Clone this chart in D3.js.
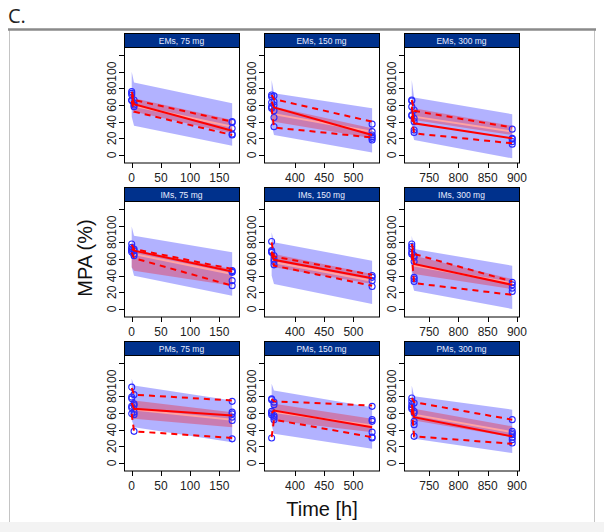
<!DOCTYPE html>
<html>
<head>
<meta charset="utf-8">
<script src="https://cdn.jsdelivr.net/npm/d3@7"></script>
<style>
  body { margin: 0; background: #fff; }
  svg { display: block; font-family: "Liberation Sans", Arial, Helvetica, sans-serif; }
</style>
</head>
<body>
<div id="chart"></div>
<script>
// panels in reading order: EMs 75, EMs 150, EMs 300, IMs 75, ... PMs 300
var groups = ["EMs", "IMs", "PMs"];
var doses = ["75 mg", "150 mg", "300 mg"];
var startTimes = [0, 360, 720];
var relTimes = [0, 4, 172];          // first sample, second sample, last sample
var xDomains = [[-13.2, 183.7], [346.9, 543.8], [706.7, 903.6]];
var xTicks = [[0, 50, 100, 150], [400, 450, 500], [750, 800, 850, 900]];
var yTicks = [0, 20, 40, 60, 80, 100, 120];

// simulated prediction interval (outer blue band), values at relTimes
var piUpper = [[100, 87, 62], [90, 74, 56], [90, 69, 49],
               [99, 88, 68], [92, 80, 58], [88, 72, 52],
               [101, 93, 75], [95, 87, 67], [93, 80, 64]];
var piLower = [[46, 35, 11], [36, 24, 3], [30, 18, -4],
               [50, 40, 16], [40, 30, 6], [32, 22, 0],
               [52, 43, 25], [45, 35, 17], [40, 29, 12]];
// confidence band of simulated median (pink band)
var ciUpper = [[72, 68, 42], [62, 58, 32], [60, 56, 35],
               [74, 71, 48], [68, 66, 42], [68, 64, 36],
               [78, 75, 61], [74, 71, 53], [68, 65, 44]];
var ciLower = [[55, 52, 26], [44, 40, 20], [45, 42, 24],
               [50, 46, 28], [53, 50, 30], [45, 42, 24],
               [56, 53, 43], [54, 51, 37], [54, 51, 31]];
var simMedian = [[63, 59, 34], [52, 49, 28], [50, 46, 28],
                 [68, 66, 42], [59, 56, 34], [55, 52, 31],
                 [67, 64, 52], [64, 61, 45], [61, 58, 37]];
// observed percentiles
var obsMedian = [[72, 61, 29], [64, 57, 24], [58, 38, 20],
                 [72, 70, 45], [69, 59, 37], [72, 54, 29],
                 [72, 65, 57], [60, 63, 43], [70, 55, 32]];
var obsP95 = [[76, 66, 40], [72, 67, 40], [66, 53, 33],
              [77, 72, 48], [80, 63, 41], [78, 66, 33],
              [90, 82, 75], [77, 74, 69], [78, 73, 52]];
var obsP05 = [[65, 52, 24], [56, 33, 21], [47, 26, 14],
              [68, 61, 28], [68, 52, 28], [66, 31, 17],
              [59, 38, 30], [31, 52, 31], [65, 32, 23]];
// observations at each of the three sampling times
var obsFirst = [[76, 74, 72, 66, 65], [72, 70, 63, 58, 56], [66, 65, 58, 48, 47],
                [78, 74, 72, 70, 68], [81, 70, 69, 68], [78, 75, 72, 68, 66],
                [91, 79, 77, 68, 66, 59], [77, 76, 62, 60, 58, 30], [78, 74, 70, 67, 65]];
var obsSecond = [[66, 62, 60, 58], [71, 64, 60, 53, 45, 34], [54, 44, 40, 30, 27],
                 [72, 70, 66, 64], [64, 60, 57, 53], [64, 62, 57, 38, 36, 33],
                 [82, 71, 69, 61, 58, 38], [73, 70, 57, 55, 52], [72, 62, 60, 50, 46, 32]];
var obsLast = [[40, 39, 32, 25, 24], [37, 28, 24, 22, 20, 18], [31, 20, 19, 16, 13],
               [46, 45, 44, 34, 28], [40, 38, 34, 27], [32, 29, 25, 21],
               [74, 61, 59, 55, 51, 29], [68, 52, 50, 37, 31, 30], [52, 38, 36, 34, 31, 28, 24]];

var W = 604, H = 532;
var colLeft = [124, 264, 404];
var rowTop = [33, 187, 341];
var panelW = 115, stripH = 14, plotH = 116;

var svg = d3.select("#chart").append("svg")
  .attr("width", W)
  .attr("height", H);

// page frame
svg.append("rect").attr("x", 0).attr("y", 522).attr("width", W).attr("height", 10).attr("fill", "#f3f3f3");
svg.append("line").attr("x1", 9.5).attr("x2", 9.5).attr("y1", 29).attr("y2", 522)
  .attr("stroke", "#c4c4c4").attr("stroke-width", 1);
svg.append("line").attr("x1", 594.5).attr("x2", 594.5).attr("y1", 29).attr("y2", 522)
  .attr("stroke", "#c4c4c4").attr("stroke-width", 1);
svg.append("line").attr("x1", 8).attr("x2", 596).attr("y1", 29.5).attr("y2", 29.5)
  .attr("stroke", "#8a8a8a").attr("stroke-width", 2.5);
svg.append("text").attr("x", 8).attr("y", 23)
  .attr("font-family", "'Open Sans', sans-serif")
  .attr("font-size", "20px").attr("fill", "#222").text("C.");

var y = d3.scaleLinear().domain([-9.6, 129.6]).range([plotH, 0]);

groups.forEach(function(g, r) {
  doses.forEach(function(dose, c) {
    var i = r * 3 + c;
    var x = d3.scaleLinear().domain(xDomains[c]).range([0, panelW]);
    var times = relTimes.map(function(t) { return t + startTimes[c]; });

    var panel = svg.append("g")
      .attr("transform", "translate(" + colLeft[c] + "," + rowTop[r] + ")");

    // strip
    panel.append("rect")
      .attr("x", 0.5).attr("y", 0.5)
      .attr("width", panelW).attr("height", stripH)
      .attr("fill", "#00318c").attr("stroke", "#000").attr("stroke-width", 1);
    panel.append("text")
      .attr("x", panelW / 2).attr("y", 10.5)
      .attr("text-anchor", "middle")
      .attr("font-size", "8.5px")
      .attr("fill", "#e6ecff")
      .text(g + ", " + dose);

    var plot = panel.append("g").attr("transform", "translate(0," + stripH + ")");

    plot.append("clipPath").attr("id", "clip" + i)
      .append("rect").attr("width", panelW).attr("height", plotH);

    var inner = plot.append("g").attr("clip-path", "url(#clip" + i + ")");

    var area = d3.area()
      .x(function(d) { return x(d.t); })
      .y0(function(d) { return y(d.lo); })
      .y1(function(d) { return y(d.hi); });

    var pi = times.map(function(t, k) { return { t: t, lo: piLower[i][k], hi: piUpper[i][k] }; });
    var ci = times.map(function(t, k) { return { t: t, lo: ciLower[i][k], hi: ciUpper[i][k] }; });

    inner.append("path").datum(pi).attr("d", area)
      .attr("fill", "#0000ff").attr("fill-opacity", 0.3);
    inner.append("path").datum(ci).attr("d", area)
      .attr("fill", "#ff0000").attr("fill-opacity", 0.3);

    var line = d3.line()
      .x(function(d) { return x(d.t); })
      .y(function(d) { return y(d.v); });
    function pts(arr) {
      return times.map(function(t, k) { return { t: t, v: arr[k] }; });
    }

    inner.append("path").datum(pts(simMedian[i])).attr("d", line)
      .attr("fill", "none").attr("stroke", "#ffa3a3").attr("stroke-width", 2);

    // observations
    var obs = [];
    [obsFirst[i], obsSecond[i], obsLast[i]].forEach(function(vals, k) {
      vals.forEach(function(v) { obs.push({ t: times[k], v: v }); });
    });
    inner.selectAll("circle.obs").data(obs).enter().append("circle")
      .attr("class", "obs")
      .attr("cx", function(d) { return x(d.t); })
      .attr("cy", function(d) { return y(d.v); })
      .attr("r", 3)
      .attr("fill", "none")
      .attr("stroke", "#2a2aff")
      .attr("stroke-width", 1.1);

    inner.append("path").datum(pts(obsMedian[i])).attr("d", line)
      .attr("fill", "none").attr("stroke", "#ff0000").attr("stroke-width", 2);
    [obsP95[i], obsP05[i]].forEach(function(arr) {
      inner.append("path").datum(pts(arr)).attr("d", line)
        .attr("fill", "none").attr("stroke", "#ff0000").attr("stroke-width", 2)
        .attr("stroke-dasharray", "6,5");
    });

    // box
    plot.append("rect")
      .attr("x", 0.5).attr("y", 0.5)
      .attr("width", panelW).attr("height", plotH - 0.5)
      .attr("fill", "none").attr("stroke", "#000").attr("stroke-width", 1);

    // y axis (ticks outside the box, rotated labels)
    var yAx = plot.append("g");
    yAx.selectAll("line").data(yTicks).enter().append("line")
      .attr("x1", -5).attr("x2", 0)
      .attr("y1", function(d) { return Math.round(y(d)) + 0.5; })
      .attr("y2", function(d) { return Math.round(y(d)) + 0.5; })
      .attr("stroke", "#000");
    yAx.selectAll("text").data(yTicks.filter(function(d) { return d <= 100; })).enter().append("text")
      .attr("transform", function(d) { return "translate(-8," + y(d) + ") rotate(-90)"; })
      .attr("text-anchor", "middle")
      .attr("font-size", "12px")
      .attr("fill", "#222")
      .text(function(d) { return d; });

    // x axis
    var xAx = plot.append("g").attr("transform", "translate(0," + plotH + ")");
    xAx.selectAll("line").data(xTicks[c]).enter().append("line")
      .attr("x1", function(d) { return Math.round(x(d)) + 0.5; })
      .attr("x2", function(d) { return Math.round(x(d)) + 0.5; })
      .attr("y1", 0).attr("y2", 5)
      .attr("stroke", "#000");
    xAx.selectAll("text").data(xTicks[c]).enter().append("text")
      .attr("x", function(d) { return x(d); })
      .attr("y", 19)
      .attr("text-anchor", "middle")
      .attr("font-size", "12px")
      .attr("fill", "#222")
      .text(function(d) { return d; });
  });
});

// axis titles
svg.append("text")
  .attr("transform", "translate(92,258) rotate(-90)")
  .attr("text-anchor", "middle")
  .attr("font-size", "20px")
  .attr("fill", "#111")
  .text("MPA (%)");

svg.append("text")
  .attr("x", 322).attr("y", 516)
  .attr("text-anchor", "middle")
  .attr("font-size", "20px")
  .attr("fill", "#111")
  .text("Time [h]");
</script>
</body>
</html>
